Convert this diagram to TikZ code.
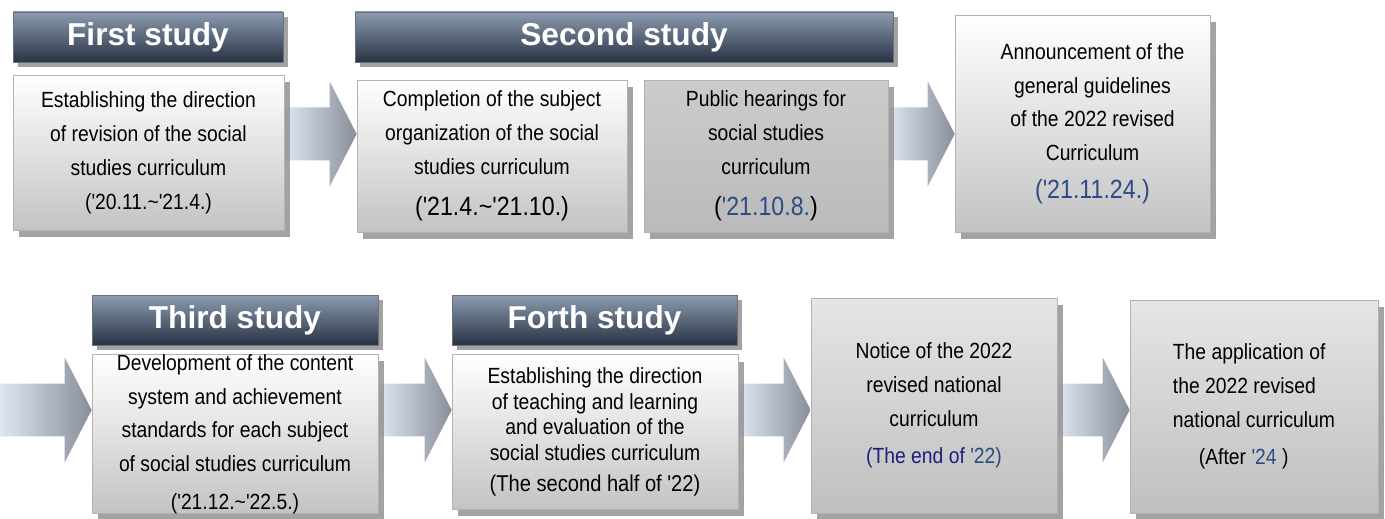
\documentclass[tikz,border=0pt]{standalone}
\usepackage{fontspec}
\usetikzlibrary{calc,shadows,backgrounds}
\setmainfont{Liberation Sans}
\newfontfamily\bodyfont[FakeStretch=0.88]{Liberation Sans}
\definecolor{hdrtop}{RGB}{140,155,176}
\definecolor{hdrbot}{RGB}{40,51,68}
\definecolor{boxbot}{RGB}{196,195,195}
\definecolor{datecol}{RGB}{45,75,130}
\definecolor{endcol}{RGB}{30,30,120}
\definecolor{arrL}{RGB}{222,231,241}
\definecolor{arrM}{RGB}{168,184,205}
\definecolor{arrR}{RGB}{136,142,154}

\begin{document}
\begin{tikzpicture}[x=0.02cm,y=-0.02cm,
	hdr/.style={draw=hdrbot!70, top color=hdrtop, bottom color=hdrbot, text=white,
		font=\fontsize{18}{20}\selectfont\bfseries, minimum height=1cm, inner sep=0pt,
		drop shadow={shadow xshift=0.1cm, shadow yshift=-0.11cm, fill=black!45, opacity=0.8}},
	stage/.style={draw=black!30, top color=white, bottom color=boxbot, align=center,
		font=\fontsize{12.5}{19.3}\selectfont\bodyfont, inner sep=0pt,
		drop shadow={shadow xshift=0.12cm, shadow yshift=-0.14cm, fill=black!45, opacity=0.8}},
	greystage/.style={stage, top color=black!20, bottom color=black!27},
	endstage/.style={stage, top color=black!10, bottom color=black!25},
	fatarrow/.style={left color=arrL, middle color=arrM, right color=arrR,
		to path={let \p1=(\tikztostart), \p2=(\tikztotarget) in
		(\x1,\y1+0.53cm) -- (\x2-0.54cm,\y1+0.53cm) -- (\x2-0.54cm,\y1+1.05cm) -- (\x2,\y2)
		-- (\x2-0.54cm,\y1-1.05cm) -- (\x2-0.54cm,\y1-0.53cm) -- (\x1,\y1-0.53cm) -- cycle}}]
	\useasboundingbox (0,0) rectangle (1385,519);
	\node[hdr, minimum width=5.4cm] (h1) at (148,37) {First study};
	\node[hdr, minimum width=10.76cm] (h2) at (624,37) {Second study};
	\node[hdr, minimum width=5.72cm] (h3) at (235,320) {Third study};
	\node[hdr, minimum width=5.7cm] (h4) at (594.5,320) {Forth study};
	\node[stage, minimum width=5.42cm, minimum height=3.1cm] (s1) at (148.5,152.5)
		{Establishing the direction\\of revision of the social\\studies curriculum\\('20.11.\textasciitilde'21.4.)};
	\node[stage, minimum width=5.4cm, minimum height=3.04cm] (s2) at (492,156)
		{Completion of the subject\\organization of the social\\studies curriculum\\[4pt]{\fontsize{15}{17}\selectfont('21.4.\textasciitilde'21.10.)}};
	\node[greystage, minimum width=4.88cm, minimum height=3.04cm] (s3) at (766,156)
		{Public hearings for\\social studies\\curriculum\\[4pt]{\fontsize{15}{17}\selectfont({\color{datecol}'21.10.8.})}};
	\node[stage, minimum width=5.1cm, minimum height=4.34cm] (s4) at (1082.5,123.5)
		{\hspace*{0.4cm}Announcement of the\\\hspace*{0.4cm}general guidelines\\\hspace*{0.4cm}of the 2022 revised\\\hspace*{0.4cm}Curriculum\\[2pt]\hspace*{0.4cm}{\fontsize{15}{17}\selectfont\color{datecol}('21.11.24.)}};
	\node[stage, minimum width=5.72cm, minimum height=3.12cm] (s5) at (235,434)
		{Development of the content\\system and achievement\\standards for each subject\\of social studies curriculum\\[2pt]('21.12.\textasciitilde'22.5.)};
	\node[stage, minimum width=5.72cm, minimum height=3.1cm, font=\fontsize{12.5}{14.7}\selectfont\bodyfont] (s6) at (595,432)
		{Establishing the direction\\of teaching and learning\\and evaluation of the\\social studies curriculum\\[3pt]{\fontsize{13}{15}\selectfont(The second half of '22)}};
	\node[endstage, minimum width=4.92cm, minimum height=4.3cm] (s7) at (934,405.5)
		{Notice of the 2022\\revised national\\curriculum\\[2pt]{\color{endcol}(The end of }{\color{datecol}'22)}};
	\node[endstage, align=left, minimum width=4.96cm, minimum height=4.26cm] (s8) at (1254,406.5)
		{The application of\\the 2022 revised\\national curriculum\\[2pt]\hspace*{0.52cm}(After {\color{datecol}'24} )};
	\coordinate (r1) at (0,134);
	\coordinate (r2) at (0,410);
	\begin{pgfonlayer}{background}
		\path[fatarrow] (s1.east |- r1) to (s2.west |- r1);
		\path[fatarrow] (s3.east |- r1) to (s4.west |- r1);
		\path[fatarrow] (r2) to (s5.west |- r2);
		\path[fatarrow] (s5.east |- r2) to (s6.west |- r2);
		\path[fatarrow] (s6.east |- r2) to (s7.west |- r2);
		\path[fatarrow] (s7.east |- r2) to (s8.west |- r2);
	\end{pgfonlayer}
\end{tikzpicture}
\end{document}
